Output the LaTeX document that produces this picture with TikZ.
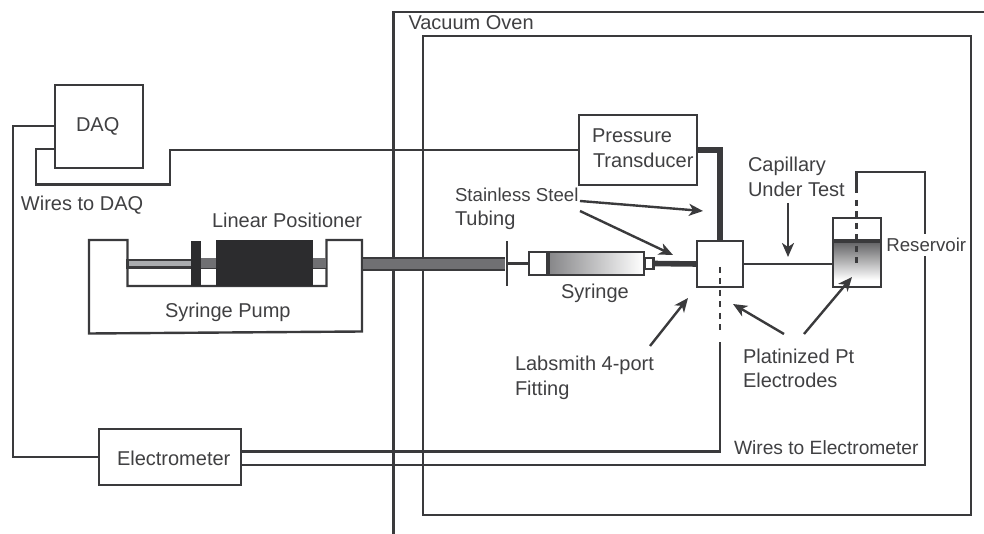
\documentclass[tikz,border=0pt]{standalone}
\usepackage{fontspec}
\setmainfont{Liberation Sans}
\usetikzlibrary{arrows.meta,calc}
\definecolor{ink}{HTML}{3A3A3C}
\definecolor{txt}{HTML}{404042}
\definecolor{rodgray}{HTML}{707073}
\definecolor{rodlight}{HTML}{AAACAF}
\definecolor{blk}{HTML}{2C2C2E}
\tikzset{
  wire/.style={draw=ink,line width=1.8pt,line join=miter},
  fat/.style={draw=ink,line width=4.2pt},
  dashwire/.style={draw=ink,line width=1.8pt,dash pattern=on 4.5pt off 4.1pt},
  pointer/.style={draw=ink,line width=1.8pt,-{Stealth[length=10.5pt,width=9pt,inset=3pt]}},
  pxbox/.style 2 args={rectangle,draw=ink,line width=1.8pt,fill=white,inner sep=0pt,outer sep=0pt,minimum width=#1*0.75pt,minimum height=#2*0.75pt},
  lab/.style={anchor=base west,inner sep=0pt,outer sep=0pt,text=txt,font=\fontsize{15}{18}\selectfont},
  labn/.style={lab,font=\fontsize{14.4}{18}\selectfont},
  labs/.style={lab,font=\fontsize{14}{18}\selectfont},
}
\begin{document}
\begin{tikzpicture}[x=0.75pt,y=-0.75pt]
\useasboundingbox (0,0) rectangle (984,534);
% oven
\coordinate (ovenbl) at (393.5,534);
\coordinate (oventl) at (393.5,12);
\coordinate (ovenr) at (984,12);
\draw[wire] (ovenbl) -- (oventl) -- (ovenr);
\node[pxbox={548}{479},fill=none] (chamber) at (697,275.5) {};
% boxes
\node[pxbox={88}{83}] (daq) at (99,126.5) {};
\node[pxbox={142}{56}] (elec) at (170,457) {};
\node[pxbox={118}{70}] (pt) at (638,150) {};
\coordinate (daqA) at (55,126);
\coordinate (daqB) at (55,149);
\coordinate (elecU) at (241,451.3);
\coordinate (elecL) at (241,465);
% DAQ wires
\draw[wire] (daqA) -| (13,457) -- (elec.west);
\draw[wire] (daqB) -- (36,149) |- (170,184.5) |- (pt.west);
% pump
\draw[wire] (89,240) -- (127.5,240) -- (127.5,286) -- (326.5,286) -- (326.5,240) -- (362,240) -- (362,331.5) -- (89,333.5) -- cycle;
% rod inside pump
\draw[wire,fill=rodlight] (127.5,260) rectangle (195,267.5);
\fill[rodgray] (195,258) rectangle (326,268.5);
\draw[draw=ink,line width=1pt] (195,268.5) -- (326,268.5);
\node[rectangle,fill=blk,inner sep=0pt,outer sep=0pt,minimum width=7.5pt,minimum height=33.75pt] (carriage) at (196,263.5) {};
\node[rectangle,fill=blk,inner sep=0pt,outer sep=0pt,minimum width=73pt,minimum height=35pt] (positioner) at (264.5,263) {};
% tube to oven wall
\fill[rodgray] (363,258) rectangle (505,270);
\draw[draw=ink,line width=1pt] (363,258) -- (505,258) (363,270) -- (505,270);
% wall fitting
\coordinate (wallT) at (507,241.5);
\coordinate (wallB) at (507,286);
\draw[wire] (wallT) -- (wallB);
% syringe
\node[pxbox={19}{23}] (flange) at (538.5,263.5) {};
\node[rectangle,draw=ink,line width=1.8pt,inner sep=0pt,outer sep=0pt,left color=rodgray!85!white,right color=white,minimum width=96*0.75pt,minimum height=23*0.75pt] (barrel) at (596,263.5) {};
\draw[draw=ink,line width=3pt] (barrel.north west) -- (barrel.south west);
\node[pxbox={9}{11}] (tip) at (649,263.5) {};
\node[pxbox={46}{46}] (port) at (720,264) {};
\draw[wire] (wallT |- flange.west) -- (flange.west);
\draw[fat] (tip.east) -- (port.west);
\draw[fat] (pt.east) -| (port.north);
% reservoir
\node[pxbox={48}{69}] (res) at (857,252.5) {};
\shade[top color=rodgray!85!black,bottom color=white] (834,241) rectangle (880,280);
\draw[wire] (res.north west) rectangle (res.south east);
\draw[draw=ink,line width=2.6pt] (833,241) -- (881,241);
\draw[wire] (port.east) -- (res.west |- port.east);
% electrode wires
\coordinate (pe1) at (720,267);
\coordinate (pe2) at (720,335);
\coordinate (pe3) at (720,342);
\coordinate (re0) at (856.5,193);
\coordinate (re1) at (856.5,200);
\coordinate (re2) at (856.5,268);
\draw[dashwire] (pe1) -- (pe2);
\draw[dashwire] (re1) -- (re2);
\draw[wire] (elecU) -- (720,451.3) -- (pe3);
\draw[wire] (elecL) -- (925,465) |- (856.5,172) -- (re0);
% pointers
\coordinate (a1s) at (580,201); \coordinate (a1e) at (703,211);
\coordinate (a2s) at (580,211); \coordinate (a2e) at (673,255);
\coordinate (a3s) at (788,203); \coordinate (a3e) at (788,257);
\coordinate (a4s) at (650,346); \coordinate (a4e) at (688,298);
\coordinate (a5s) at (784,334); \coordinate (a5e) at (733,304);
\coordinate (a6s) at (804,334); \coordinate (a6e) at (852,277);
\draw[pointer] (a1s) -- (a1e);
\draw[pointer] (a2s) -- (a2e);
\draw[pointer] (a3s) -- (a3e);
\draw[pointer] (a4s) -- (a4e);
\draw[pointer] (a5s) -- (a5e);
\draw[pointer] (a6s) -- (a6e);
% labels
\node[lab] (tOven) at (408.5,30) {Vacuum Oven};
\node[lab] (tDaq) at (76,132) {DAQ};
\node[lab] (tWd) at (21,211) {Wires to DAQ};
\node[lab] (tLp) at (212,228) {Linear Positioner};
\node[lab] (tSp) at (165,318) {Syringe Pump};
\node[lab] (tP1) at (592,143) {Pressure};
\node[lab] (tP2) at (593,168) {Transducer};
\node[labs] (tS1) at (455,201.5) {Stainless Steel};
\node[lab] (tS2) at (455,225.5) {Tubing};
\node[lab] (tSy) at (561,299) {Syringe};
\node[lab] (tC1) at (748,172) {Capillary};
\node[lab] (tC2) at (748,197) {Under Test};
\node[labs,fill=white,inner ysep=3pt,inner xsep=1pt] (tRes) at (885,252) {Reservoir};
\node[lab] (tL1) at (515,370) {Labsmith 4-port};
\node[lab] (tL2) at (515,395) {Fitting};
\node[lab] (tPl1) at (743,363) {Platinized Pt};
\node[lab] (tPl2) at (743,387) {Electrodes};
\node[labn] (tWe) at (734,454) {Wires to Electrometer};
\node[lab] (tEl) at (117,465) {Electrometer};
\end{tikzpicture}
\end{document}
